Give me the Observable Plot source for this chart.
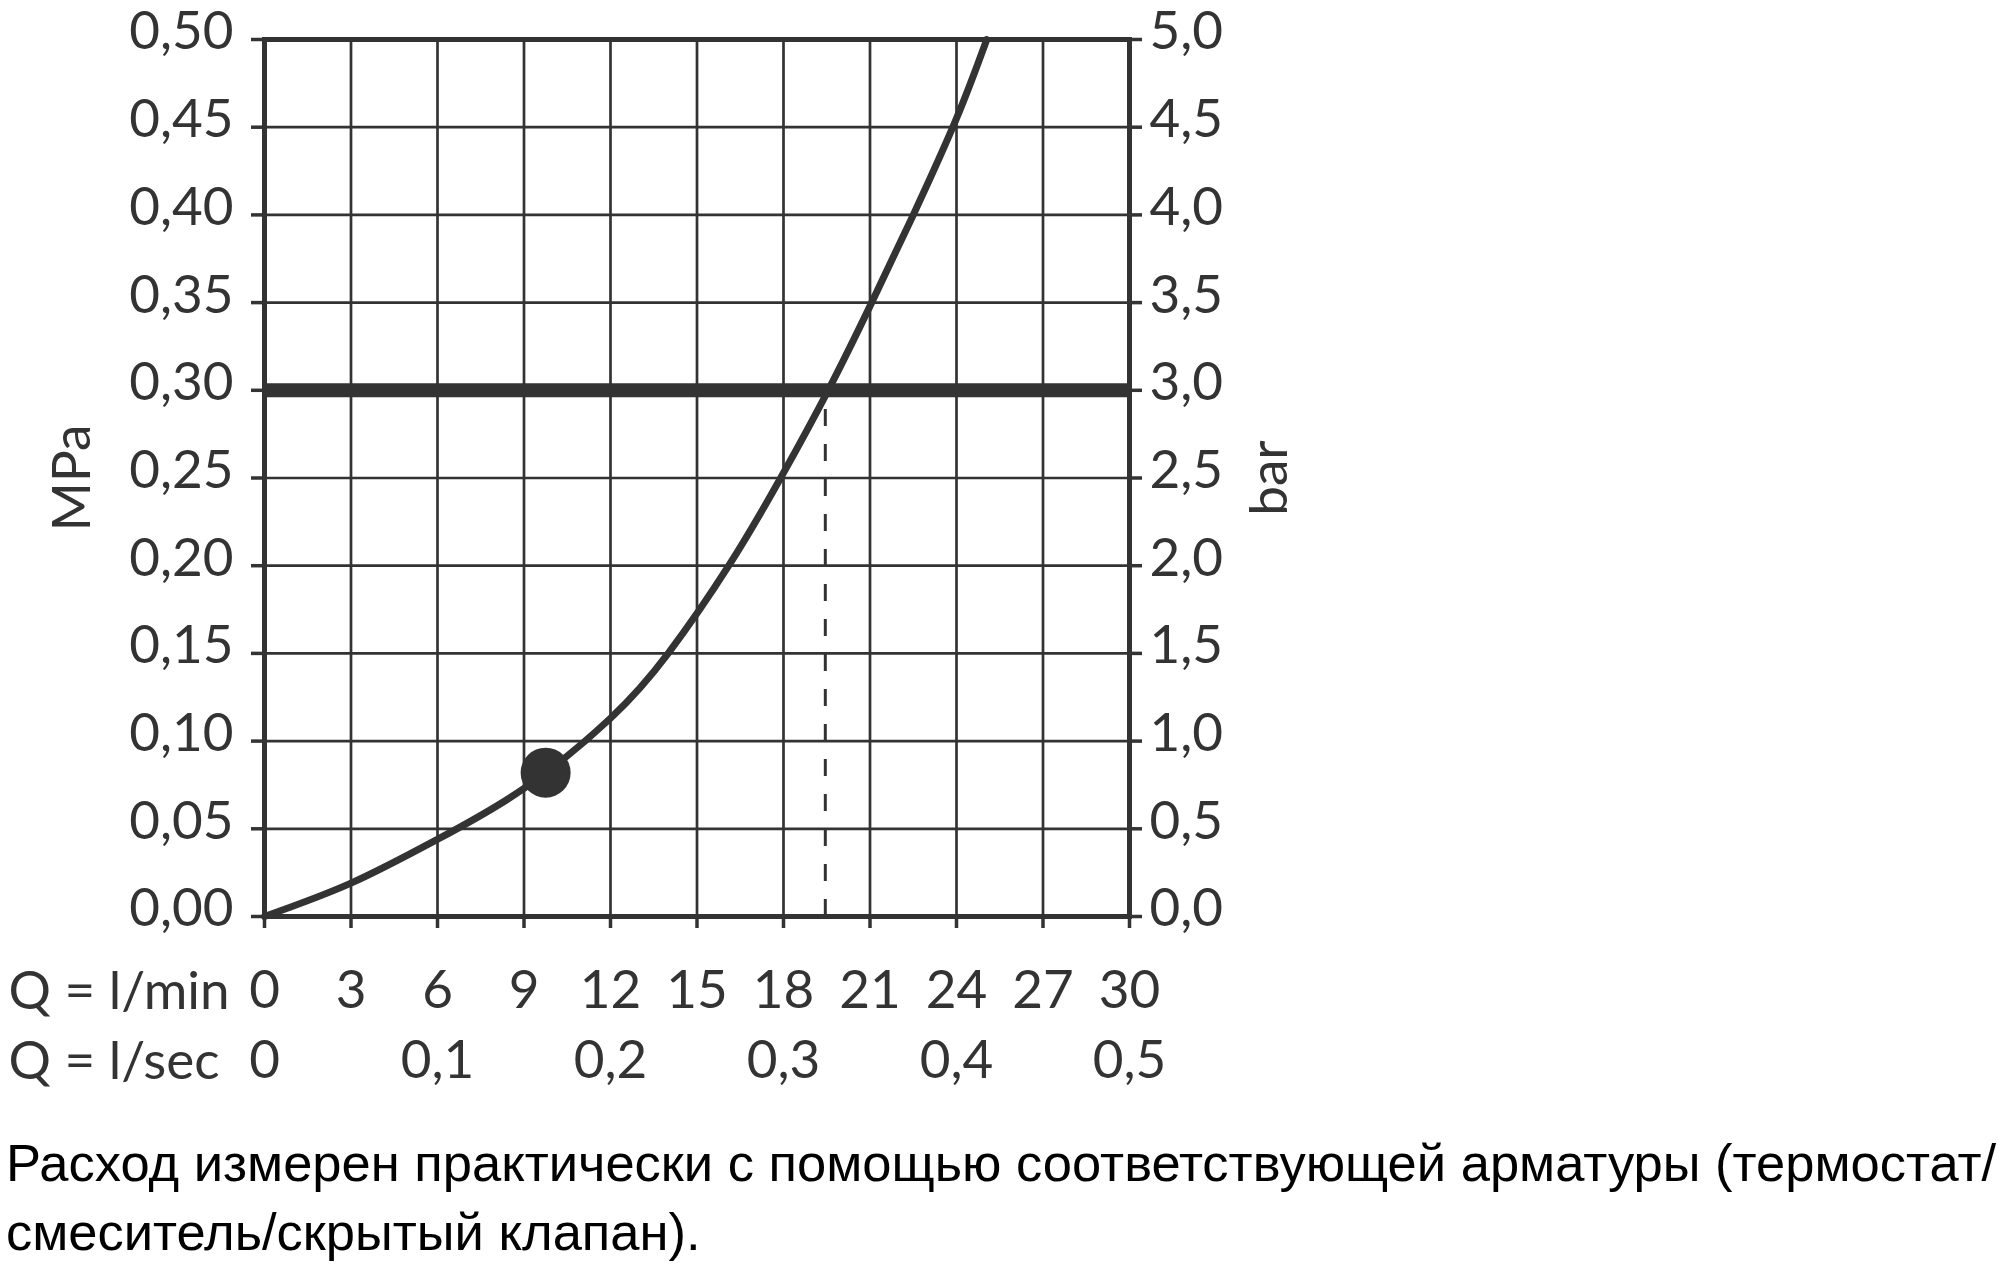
<!DOCTYPE html>
<html>
<head>
<meta charset="utf-8">
<script src="https://cdn.jsdelivr.net/npm/d3@7"></script>
<script src="https://cdn.jsdelivr.net/npm/@observablehq/plot@0.6"></script>
<style>
  html, body { margin: 0; padding: 0; background: #fff; }
  #wrap { position: relative; width: 2000px; height: 1270px; }
  #caption {
    position: absolute; left: 6px; top: 1128px;
    font-family: "Liberation Sans", Arial, sans-serif;
    font-size: 52.5px; line-height: 69px; color: #000; white-space: nowrap;
  }
</style>
</head>
<body>
<div id="wrap">
  <div id="chart"></div>
  <div id="caption">Расход измерен практически с помощью соответствующей арматуры (термостат/<br>смеситель/скрытый клапан).</div>
</div>
<script>
// Flow (l/min) and pressure loss (MPa)
const flowLmin = [0, 3, 6, 9, 12, 14, 16.1, 17.9, 19.55, 21, 22.5, 24, 25.05];
const pressureMPa = [0, 0.019, 0.044, 0.073, 0.113, 0.15, 0.20, 0.25, 0.30, 0.348, 0.40, 0.455, 0.50];

// Marked operating point and reference pressure
const pointFlow = [9.75];
const pointPressure = [0.082];
const refPressure = [0.30];
const refFlow = [19.45];

// Ticks
const mpaTicks = [0, 0.05, 0.10, 0.15, 0.20, 0.25, 0.30, 0.35, 0.40, 0.45, 0.50];
const barLabels = ["0,0", "0,5", "1,0", "1,5", "2,0", "2,5", "3,0", "3,5", "4,0", "4,5", "5,0"];
const lminTicks = [0, 3, 6, 9, 12, 15, 18, 21, 24, 27, 30];
const lsecTicks = [0, 6, 12, 18, 24, 30];
const lsecLabels = ["0", "0,1", "0,2", "0,3", "0,4", "0,5"];
const rowTitles = ["Q = l/min", "Q = l/sec"];
const yTitleLeft = ["MPa"];
const yTitleRight = ["bar"];

const curve = flowLmin.map((q, i) => ({q, p: pressureMPa[i]}));
const dot = pointFlow.map((q, i) => ({q, p: pointPressure[i]}));
const ink = "#333";

const fmtMPa = d => d.toFixed(2).replace(".", ",");
const fmtBar = d => barLabels[mpaTicks.findIndex(t => Math.abs(t - d) < 1e-9)];
const fmtSec = d => lsecLabels[lsecTicks.indexOf(d)];

const chart = Plot.plot({
  width: 2000,
  height: 1100,
  marginLeft: 264,
  marginRight: 871,
  marginTop: 39,
  marginBottom: 184,
  style: {fontFamily: "Lato, 'Noto Sans', sans-serif", fontSize: "53px", color: ink, background: "white", overflow: "visible"},
  x: {domain: [0, 30]},
  y: {domain: [0, 0.5]},
  marks: [
    Plot.gridX(lminTicks, {stroke: ink, strokeOpacity: 1, strokeWidth: 2.7}),
    Plot.gridY(mpaTicks, {stroke: ink, strokeOpacity: 1, strokeWidth: 2.7}),
    Plot.ruleY(refPressure, {x1: 0, x2: 30, stroke: ink, strokeWidth: 14}),
    Plot.ruleX(refFlow, {y1: 0, y2: refPressure[0], stroke: ink, strokeWidth: 3, strokeDasharray: "17,18"}),
    Plot.frame({stroke: ink, strokeWidth: 5}),
    Plot.line(curve, {x: "q", y: "p", stroke: ink, strokeWidth: 7, curve: "natural"}),
    Plot.dot(dot, {x: "q", y: "p", r: 25, fill: ink, stroke: "none"}),
    // left axis
    Plot.axisY(mpaTicks, {anchor: "left", tickSize: 13, tickFormat: () => "", stroke: ink, strokeWidth: 3.5, label: null}),
    Plot.axisY(mpaTicks, {anchor: "left", tickSize: 0, tickPadding: 31, dy: -7, tickFormat: fmtMPa, label: null}),
    // right axis
    Plot.axisY(mpaTicks, {anchor: "right", tickSize: 12, tickFormat: () => "", stroke: ink, strokeWidth: 3.5, label: null}),
    Plot.axisY(mpaTicks, {anchor: "right", tickSize: 0, tickPadding: 20, dy: -7, tickFormat: fmtBar, label: null}),
    // bottom axes
    Plot.axisX(lminTicks, {anchor: "bottom", tickSize: 12, tickPadding: 42, tickFormat: d => String(d), stroke: ink, strokeWidth: 3.5, label: null}),
    Plot.axisX(lsecTicks, {anchor: "bottom", tickSize: 0, tickPadding: 124, tickFormat: fmtSec, label: null}),
    // row titles
    Plot.text([rowTitles[0]], {text: d => d, frameAnchor: "bottom-left", dx: -256, dy: 92, textAnchor: "start", lineAnchor: "bottom", fill: ink}),
    Plot.text([rowTitles[1]], {text: d => d, frameAnchor: "bottom-left", dx: -256, dy: 162, textAnchor: "start", lineAnchor: "bottom", fill: ink}),
    // axis titles
    Plot.text(yTitleLeft, {text: d => d, frameAnchor: "left", dx: -191, rotate: -90, textAnchor: "middle", lineAnchor: "middle", fill: ink}),
    Plot.text(yTitleRight, {text: d => d, frameAnchor: "right", dx: 141, rotate: -90, textAnchor: "middle", lineAnchor: "middle", fill: ink})
  ]
});
document.getElementById("chart").appendChild(chart);
</script>
</body>
</html>
